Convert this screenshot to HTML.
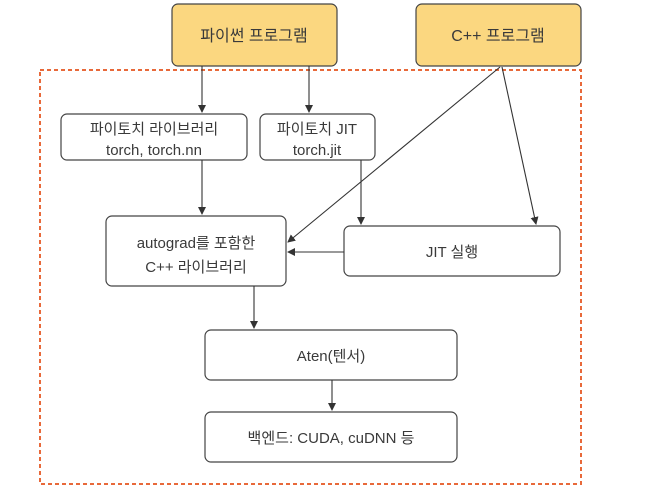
<!DOCTYPE html>
<html><head><meta charset="utf-8"><style>
body{margin:0;background:#fff;width:655px;height:498px;overflow:hidden;font-family:"Liberation Sans","Noto Sans CJK KR",sans-serif;}
</style></head><body>
<svg width="655" height="498" xmlns="http://www.w3.org/2000/svg" font-family="Liberation Sans, Noto Sans CJK KR, sans-serif" font-size="15" fill="#3a3a3a">
<defs><marker id="a" markerWidth="8" markerHeight="8" refX="7" refY="4" orient="auto" markerUnits="userSpaceOnUse"><path d="M0,0 L8,4 L0,8 z" fill="#333"/></marker></defs>
<rect x="40" y="70" width="541" height="414" fill="none" stroke="#e8693a" stroke-width="2" stroke-dasharray="4,3"/>
<rect x="172" y="4" width="165" height="62" rx="6" fill="#fbd780" stroke="#444" stroke-width="1.2"/>
<rect x="416" y="4" width="165" height="62" rx="6" fill="#fbd780" stroke="#444" stroke-width="1.2"/>
<text x="254" y="41" text-anchor="middle" font-size="16">파이썬 프로그램</text>
<text x="498" y="41" text-anchor="middle" font-size="16">C++ 프로그램</text>
<g fill="#fff" stroke="#444" stroke-width="1.2">
<rect x="61" y="114" width="186" height="46" rx="6"/>
<rect x="260" y="114" width="115" height="46" rx="6"/>
<rect x="106" y="216" width="180" height="70" rx="6"/>
<rect x="344" y="226" width="216" height="50" rx="6"/>
<rect x="205" y="330" width="252" height="50" rx="6"/>
<rect x="205" y="412" width="252" height="50" rx="6"/>
</g>
<g text-anchor="middle">
<text x="154" y="134">파이토치 라이브러리</text>
<text x="154" y="155">torch, torch.nn</text>
<text x="317" y="134">파이토치 JIT</text>
<text x="317" y="155">torch.jit</text>
<text x="196" y="248">autograd를 포함한</text>
<text x="196" y="272">C++ 라이브러리</text>
<text x="452" y="257">JIT 실행</text>
<text x="331" y="361">Aten(텐서)</text>
<text x="331" y="443">백엔드: CUDA, cuDNN 등</text>
</g>
<g stroke="#333" stroke-width="1.1" marker-end="url(#a)">
<line x1="202" y1="66" x2="202" y2="112"/>
<line x1="309" y1="66" x2="309" y2="112"/>
<line x1="202" y1="160" x2="202" y2="214"/>
<line x1="361" y1="160" x2="361" y2="224"/>
<line x1="500" y1="67" x2="288" y2="242"/>
<line x1="502" y1="67" x2="536" y2="224"/>
<line x1="344" y1="252" x2="288" y2="252"/>
<line x1="254" y1="286" x2="254" y2="328"/>
<line x1="332" y1="380" x2="332" y2="410"/>
</g>
</svg>
</body></html>
